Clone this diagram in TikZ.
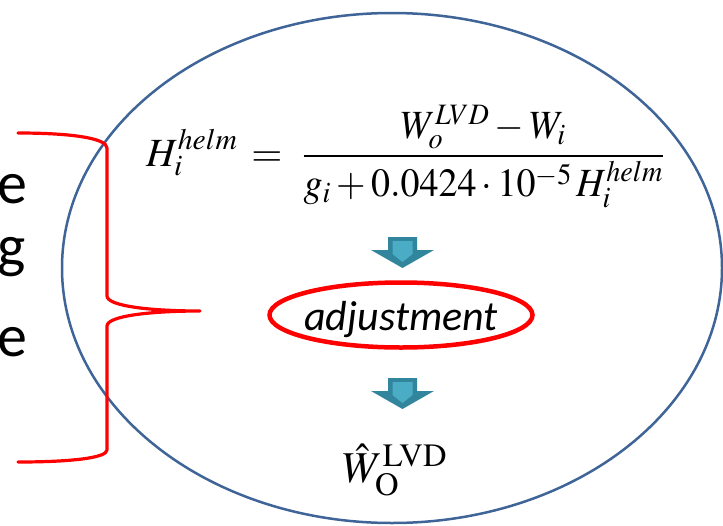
\documentclass[tikz,border=0pt]{standalone}
\usepackage{amsmath}
\usepackage{mathptmx}
\usepackage[no-math]{fontspec}
\newfontfamily\calibri{Carlito}
\usepackage{xcolor}
\usepackage{tikz}
\usetikzlibrary{shapes.geometric}
\definecolor{ringblue}{HTML}{3F6497}
\definecolor{arrowdark}{HTML}{31859C}
\definecolor{arrowlight}{HTML}{4BACC6}

\begin{document}
\begin{tikzpicture}[x=1pt,y=-1pt,
    tailtext/.style={anchor=base west, inner sep=0, font=\calibri\fontsize{60}{72}\selectfont},
    ringred/.style={ellipse, draw=red, line width=4.5pt, minimum width=263, minimum height=65, inner sep=0}]
  \useasboundingbox (0,0) rectangle (723,525);
  % big ellipse
  \draw[ringblue, line width=2.5pt] (392,268) ellipse [x radius=330, y radius=255];
  % letters cut off at the left
  \node[tailtext] (tailA) at (-3,203) {e};
  \node[tailtext] (tailB) at (-3,266) {g};
  \node[tailtext] (tailC) at (-3,356) {e};
  % brace
  \draw[red, line width=3.2pt, line cap=round, line join=round]
    (18,133) .. controls (70,133) and (107,138) .. (107,148)
    -- (107,296) .. controls (107,306) and (150,311) .. (200,311)
    .. controls (150,311) and (107,316) .. (107,326)
    -- (107,450) .. controls (107,458) and (70,462) .. (18,462);
  % formula
  \node[anchor=base west, inner sep=0] (helmEq) at (146,166)
    {\fontsize{40}{46}\selectfont$\displaystyle H_i^{helm}\hspace{14pt}{=}\hspace{20pt}$%
     \scalebox{0.95}[1]{$\displaystyle\frac{W_o^{LVD}-W_i}{g_i+0.0424\cdot 10^{-5}\,H_i^{helm}}$}};
  % block arrows
  \foreach \t in {237,378} {
    \fill[arrowdark] (388,\t) -- (417,\t) -- (417,\t+13) -- (434,\t+13) -- (402.5,\t+31)
      -- (371,\t+13) -- (388,\t+13) -- cycle;
    \fill[arrowlight] (392.5,\t+4) -- (412.5,\t+4) -- (412.5,\t+17) -- (402.5,\t+25)
      -- (392.5,\t+17) -- cycle;
  }
  % adjustment
  \node[ringred] (adjRing) at (401,315) {};
  \node[anchor=base, inner sep=0, font=\calibri\itshape\fontsize{42}{50}\selectfont] (adjText) at (401,330) {adjustment};
  % result
  \node[anchor=base, inner sep=0] (wHat) at (395,482)
    {\fontsize{44}{50}\selectfont$\hat{W}_{\mathrm{O}}^{\mathrm{LVD}}$};
\end{tikzpicture}
\end{document}
